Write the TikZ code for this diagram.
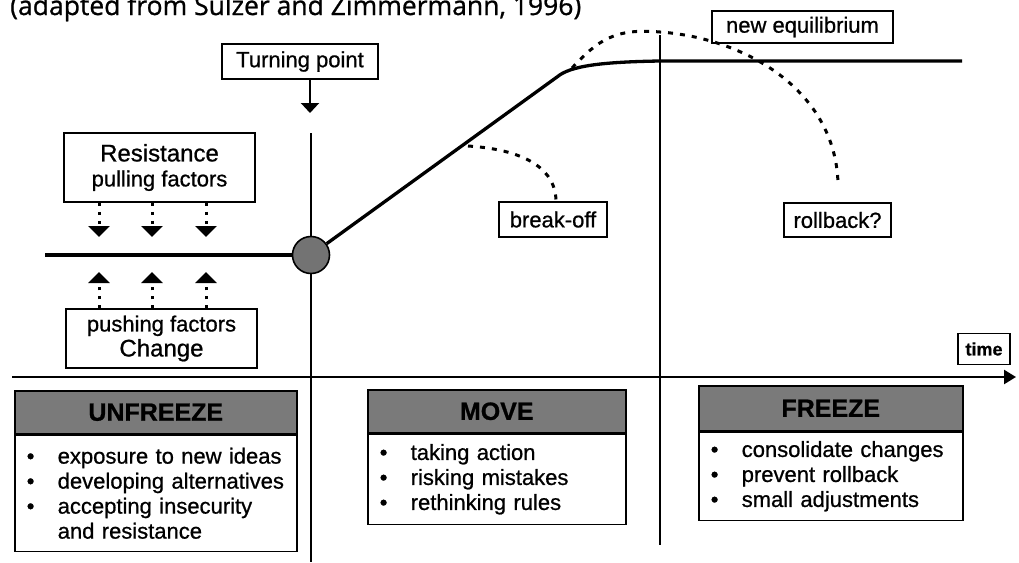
\documentclass[tikz,border=0pt]{standalone}
\usepackage{fontspec}
\setmainfont{Liberation Sans}[FakeBold=0.8]
\newfontfamily\titlefont{Open Sans}[FakeBold=0.9]
\usetikzlibrary{arrows.meta}
\begin{document}
\begin{tikzpicture}[x=1pt,y=-1pt,
  lbl/.style={draw, line width=1.5pt, inner sep=0pt, font=\fontsize{22}{25}\selectfont, align=center},
  thick line/.style={line width=3.3pt},
  vline/.style={line width=2.2pt},
  dashcurve/.style={line width=3pt, dash pattern=on 5pt off 7pt},
  dotarrow/.style={line width=3pt, dash pattern=on 3pt off 6pt, -{Triangle[width=21pt,length=11pt]}},
  headbox/.style={draw, line width=1.5pt, fill=black!52, inner sep=0pt, font=\bfseries\fontsize{25}{25}\selectfont},
  bodybox/.style={draw, line width=1.5pt, inner xsep=12pt, inner ysep=0pt, align=left, font=\fontsize{22}{25}\selectfont},
]
\useasboundingbox (0,0) rectangle (1019,562);
\clip (0,0) rectangle (1019,562);

% title
\node[anchor=base west, inner sep=0pt, font=\titlefont\fontsize{26.5}{30}\selectfont] (title) at (10,15) {(adapted from Sulzer and Zimmermann, 1996)};

% turning point circle
\node[circle, draw, line width=1.6pt, fill=black!55, minimum size=37pt, inner sep=0pt] (tp) at (311,255) {};

% coordinates
\coordinate (v1top) at (311,133);
\coordinate (v1bot) at (311,562);
\coordinate (v2top) at (660,35);
\coordinate (v2bot) at (660,545);
\coordinate (hstart) at (45,255);
\coordinate (knee) at (557,77);
\coordinate (flat) at (660,61);
\coordinate (hend) at (962,61);
\coordinate (taxis0) at (12,377);
\coordinate (taxis1) at (1016,377);
\coordinate (bstart) at (468,146);
\coordinate (rstart) at (572,68);
\coordinate (rpeak) at (660,32);
\coordinate (rend) at (838,183);

% labels
\node[lbl, minimum width=156pt, minimum height=35pt] (tpbox) at (300,61.5) {Turning point};
\node[lbl, minimum width=191pt, minimum height=69pt] (res) at (159.5,167.5) {{\fontsize{24}{25}\selectfont Resistance}\\[0pt]pulling factors};
\node[lbl, minimum width=191pt, minimum height=59pt] (push) at (161.5,338.5) {pushing factors\\[0pt]{\fontsize{24}{25}\selectfont Change}};
\node[lbl, minimum width=108pt, minimum height=35pt] (boff) at (553,219.5) {break-off};
\node[lbl, minimum width=107pt, minimum height=34pt] (rb) at (837.5,220) {rollback?};
\node[lbl, minimum width=181pt, minimum height=32pt] (neq) at (802.5,27) {new equilibrium};
\node[lbl, minimum width=52pt, minimum height=31pt, font=\bfseries\fontsize{18}{20}\selectfont] (time) at (984,349) {time};

% vertical lines
\draw[vline] (v1top) -- (tp);
\draw[vline] (tp) -- (v1bot);
\draw[vline] (v2top) -- (v2bot);

% time axis
\draw[line width=2.4pt, -{Triangle[width=14pt,length=12pt]}] (taxis0) -- (taxis1);

% main curve
\draw[thick line] (hstart) -- (tp);
\draw[thick line, line join=round] (tp) -- (knee) .. controls (570,66) and (600,62) .. (flat) -- (hend);

% dashed alternatives
\draw[dashcurve] (bstart) .. controls (530,150) and (556,172) .. (boff.north -| 556,0);
\draw[dashcurve] (rstart) .. controls (598,40) and (615,28) .. (rpeak) .. controls (745,38) and (835,90) .. (rend);

% turning point arrow
\draw[line width=2.2pt, -{Triangle[width=18pt,length=10pt]}] (tpbox.south -| 310,0) -- (310,113);

% pulling / pushing arrows
\foreach \x in {99,152,206} {
  \draw[dotarrow] (res.south -| \x,0) -- (\x,237);
  \draw[dotarrow] (push.north -| \x,0) -- (\x,272);
}

% phase boxes
\node[headbox, anchor=north west, minimum width=282pt, minimum height=43pt] (uh) at (14,390) {UNFREEZE};
\node[bodybox, anchor=north west, minimum width=282pt, minimum height=116pt, text width=258pt] (ub) at (uh.south west) {%
\makebox[31pt][l]{\textbullet}exposure to new ideas\\
\makebox[31pt][l]{\textbullet}developing alternatives\\
\makebox[31pt][l]{\textbullet}accepting insecurity\\
\hspace*{31pt}and resistance};
\draw[line width=2.8pt] (uh.south west) -- (uh.south east);

\node[headbox, anchor=north west, minimum width=258pt, minimum height=43pt] (mh) at (367,389) {MOVE};
\node[bodybox, anchor=north west, minimum width=258pt, minimum height=90pt, text width=234pt] (mb) at (mh.south west) {%
\makebox[31pt][l]{\textbullet}taking action\\
\makebox[31pt][l]{\textbullet}risking mistakes\\
\makebox[31pt][l]{\textbullet}rethinking rules};
\draw[line width=2.8pt] (mh.south west) -- (mh.south east);

\node[headbox, anchor=north west, minimum width=264pt, minimum height=45pt] (fh) at (698,385) {FREEZE};
\node[bodybox, anchor=north west, minimum width=264pt, minimum height=88pt, text width=240pt] (fb) at (fh.south west) {%
\makebox[31pt][l]{\textbullet}consolidate changes\\
\makebox[31pt][l]{\textbullet}prevent rollback\\
\makebox[31pt][l]{\textbullet}small adjustments};
\draw[line width=2.8pt] (fh.south west) -- (fh.south east);
\end{tikzpicture}
\end{document}
